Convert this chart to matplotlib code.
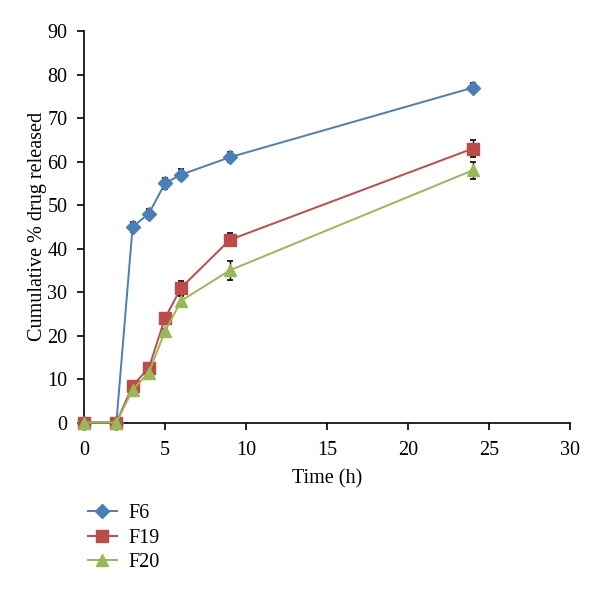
import matplotlib
matplotlib.use("Agg")
import matplotlib.pyplot as plt

time_h = [0, 2, 3, 4, 5, 6, 9, 24]
f6 = [0, 0, 45, 48, 55, 57, 61, 77]
f6_err = [0, 0, 1.2, 1.2, 1.2, 1.2, 1.2, 1.1]
f19 = [0, 0, 8.5, 12.5, 24, 31, 42, 63]
f19_err = [0, 0, 0.6, 1.0, 0.6, 1.6, 1.5, 2.0]
f20 = [0, 0, 7.5, 11.5, 21, 28, 35, 58]
f20_err = [0, 0, 0.6, 0.6, 0.6, 1.2, 2.2, 2.0]
labels = ["F6", "F19", "F20"]
x_ticks = [0, 5, 10, 15, 20, 25, 30]
y_ticks = [0, 10, 20, 30, 40, 50, 60, 70, 80, 90]

plt.rcParams['font.family'] = ['Liberation Serif', 'DejaVu Serif']

fig = plt.figure(figsize=(6.0, 5.93), dpi=100)
ax = fig.add_axes([0.14, 0.2875, 0.81, 0.66])

series = [
    (f6, f6_err, "#4a7ebb", "D", 7),
    (f19, f19_err, "#be4b48", "s", 8.5),
    (f20, f20_err, "#98b954", "^", 9),
]
handles = []
for (vals, errs, col, mk, ms), lab in zip(series, labels):
    ax.errorbar(time_h, vals, yerr=errs, fmt='none', ecolor='black',
                elinewidth=1.0, capsize=2.5, capthick=1.2, zorder=2)
    h, = ax.plot(time_h, vals, color=col, marker=mk, markersize=ms,
                 linewidth=1.4, label=lab, zorder=3, clip_on=False)
    handles.append(h)

ax.set_xlim(0, 30)
ax.set_ylim(0, 90)
ax.set_xticks(x_ticks)
ax.set_yticks(y_ticks)
ax.spines['top'].set_visible(False)
ax.spines['right'].set_visible(False)
for s in ['left', 'bottom']:
    ax.spines[s].set_linewidth(1.2)
ax.tick_params(axis='both', direction='out', length=5, width=1.2, labelsize=14.5)
ax.tick_params(axis='y', pad=7)
ax.tick_params(axis='x', pad=8)
ax.set_xlabel("Time (h)", fontsize=14.5, labelpad=7)
ax.set_ylabel("Cumulative % drug released", fontsize=14.5, labelpad=0)

fig.legend(handles=handles, labels=labels, loc='upper left',
           bbox_to_anchor=(0.116, 0.18), frameon=False, fontsize=14.5,
           handlelength=1.45, labelspacing=0.25, handletextpad=0.55)

fig.savefig("out.png", dpi=100)
